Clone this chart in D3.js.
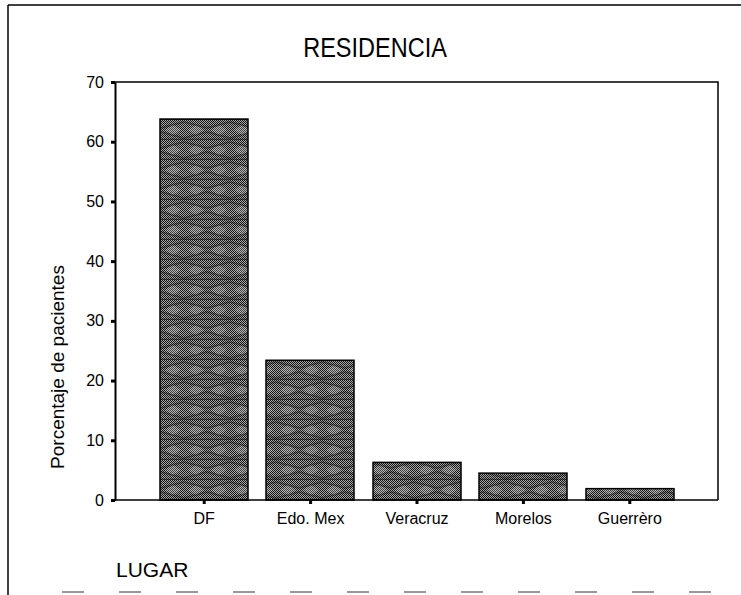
<!DOCTYPE html>
<html>
<head>
<meta charset="utf-8">
<script src="https://cdn.jsdelivr.net/npm/d3@7"></script>
<style>
  html, body { margin: 0; padding: 0; background: #fff; }
  svg { display: block; }
  text { font-family: Arial, "Liberation Sans", sans-serif; fill: #000; }
</style>
</head>
<body>
<svg id="chart" width="741" height="595"></svg>
<script>
// Patient residence (percentage of patients by place)
const categories = ["DF", "Edo. Mex", "Veracruz", "Morelos", "Guerrèro"];
const percentages = [63.8, 23.4, 6.3, 4.5, 1.9];
const yTickValues = [0, 10, 20, 30, 40, 50, 60, 70];
const chartTitle = "RESIDENCIA";
const yTitle = "Porcentaje de pacientes";
const xTitle = "LUGAR";

(function draw() {
  const svg = d3.select("#chart");
  const W = 741, H = 595;

  // plot area
  const plotLeft = 115, plotRight = 718, plotTop = 82, plotBottom = 500;

  const x = d3.scaleBand()
    .domain(categories)
    .range([151, 683])
    .paddingInner(0.17)
    .paddingOuter(0.085);

  const y = d3.scaleLinear()
    .domain([0, 70])
    .range([plotBottom, plotTop]);

  // fill patterns: fine dither plus a darker woven lattice
  const defs = svg.append("defs");
  const dither = defs.append("pattern")
    .attr("id", "dither")
    .attr("patternUnits", "userSpaceOnUse")
    .attr("width", 2).attr("height", 2);
  dither.append("rect").attr("width", 2).attr("height", 2).attr("fill", "#141414");
  dither.append("rect").attr("x", 1).attr("y", 0).attr("width", 1).attr("height", 1).attr("fill", "#a8a8a8");
  dither.append("rect").attr("x", 0).attr("y", 1).attr("width", 1).attr("height", 1).attr("fill", "#a8a8a8");

  const weave = defs.append("pattern")
    .attr("id", "weave")
    .attr("patternUnits", "userSpaceOnUse")
    .attr("width", 46).attr("height", 20);
  // light lozenges between the lattice rows
  weave.append("path")
    .attr("d", "M4,10 L12,5 L20,10 L12,15 Z M27,10 L35,5 L43,10 L35,15 Z")
    .attr("fill", "#fff").attr("fill-opacity", 0.18);
  // dark slanted lattice
  weave.append("path")
    .attr("d", "M0,2 L23,8 L46,2 M0,18 L23,12 L46,18")
    .attr("fill", "none").attr("stroke", "#000").attr("stroke-opacity", 0.3).attr("stroke-width", 2);
  // row separators
  weave.append("path")
    .attr("d", "M0,19.5 L46,19.5")
    .attr("fill", "none").attr("stroke", "#000").attr("stroke-opacity", 0.5).attr("stroke-width", 1.5);

  // outer frame
  svg.append("line").attr("x1", 8).attr("x2", W).attr("y1", 5).attr("y2", 5)
    .attr("stroke", "#000").attr("stroke-width", 1.5);
  svg.append("line").attr("x1", 8).attr("x2", 8).attr("y1", 5).attr("y2", H)
    .attr("stroke", "#000").attr("stroke-width", 1.5);
  svg.append("line").attr("x1", 62).attr("x2", W).attr("y1", 592).attr("y2", 592)
    .attr("stroke", "#000").attr("stroke-width", 1.2)
    .attr("stroke-dasharray", "22 35").attr("stroke-opacity", 0.8);

  // title (slightly condensed lettering)
  svg.append("text")
    .attr("transform", "translate(375,57) scale(0.84,1)")
    .attr("text-anchor", "middle")
    .attr("font-size", 28)
    .text(chartTitle);

  // plot box top and right borders
  svg.append("path")
    .attr("d", `M${plotLeft},${plotTop}H${plotRight}V${plotBottom}`)
    .attr("fill", "none").attr("stroke", "#000").attr("stroke-width", 1.5);

  // bars
  const bars = svg.append("g");
  categories.forEach((c, i) => {
    const bx = Math.round(x(c)), bw = Math.round(x.bandwidth());
    const by = y(percentages[i]), bh = y(0) - y(percentages[i]);
    bars.append("rect").attr("x", bx).attr("y", by).attr("width", bw).attr("height", bh)
      .attr("fill", "url(#dither)");
    bars.append("rect").attr("x", bx).attr("y", by).attr("width", bw).attr("height", bh)
      .attr("fill", "url(#weave)")
      .attr("stroke", "#000").attr("stroke-width", 1.5);
  });

  // y axis
  const yAxis = svg.append("g")
    .attr("transform", `translate(${plotLeft},0)`)
    .call(d3.axisLeft(y).tickValues(yTickValues).tickSize(4).tickPadding(7).tickSizeOuter(0));
  yAxis.select(".domain").attr("stroke-width", 2);
  yAxis.selectAll(".tick line").attr("stroke-width", 3);
  yAxis.selectAll(".tick text")
    .attr("font-size", 16)
    .attr("font-family", "Arial, 'Liberation Sans', sans-serif");

  // x axis
  const xAxis = svg.append("g")
    .attr("transform", `translate(0,${plotBottom})`)
    .call(d3.axisBottom(x).tickSize(4).tickPadding(6).tickSizeOuter(0));
  xAxis.select(".domain").attr("d", `M${plotLeft},0H${plotRight}`).attr("stroke-width", 1.5);
  xAxis.selectAll(".tick line").attr("stroke-width", 3);
  xAxis.selectAll(".tick text")
    .attr("font-size", 16)
    .attr("dy", "0.9em")
    .attr("font-family", "Arial, 'Liberation Sans', sans-serif");

  // axis titles
  svg.append("text")
    .attr("transform", "translate(64,367) rotate(-90)")
    .attr("text-anchor", "middle")
    .attr("font-size", 19)
    .text(yTitle);

  svg.append("text")
    .attr("x", 116).attr("y", 577)
    .attr("font-size", 21)
    .text(xTitle);
})();
</script>
</body>
</html>
